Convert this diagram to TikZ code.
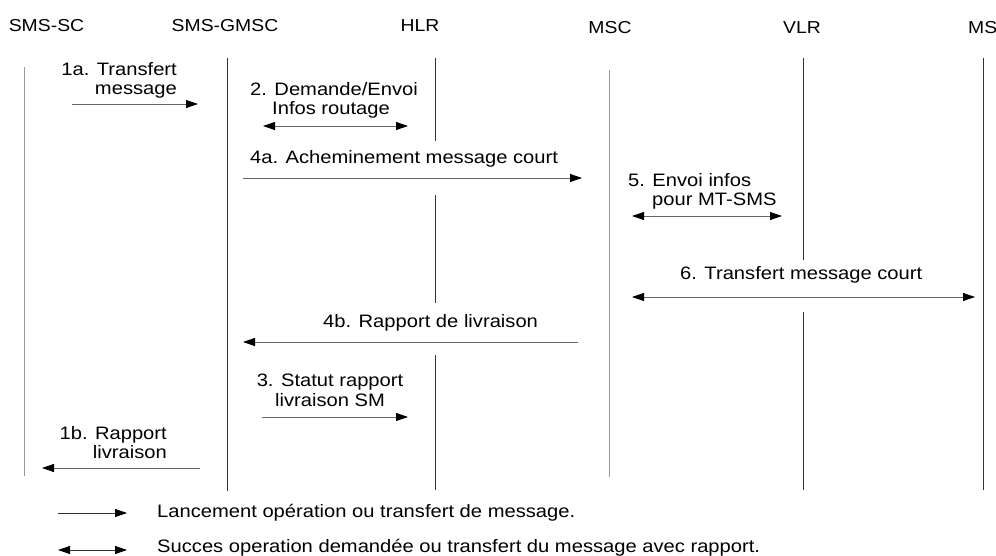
\documentclass[tikz,border=0pt]{standalone}
\usepackage{fontspec}
\setmainfont{Liberation Sans}[FakeStretch=1.12]
\usetikzlibrary{arrows.meta}

\begin{document}
\begin{tikzpicture}[x=1pt,y=-1pt,
  hdr/.style={font=\fontsize{17.3}{19}\selectfont, inner sep=0pt, anchor=base},
  lbl/.style={font=\fontsize{18}{19.5}\selectfont, inner sep=0pt},
  keytext/.style={font=\fontsize{18}{19.5}\selectfont, inner sep=0pt, anchor=base west},
  life/.style={line width=0.9pt, draw=black!80},
  faint/.style={line width=0.7pt, draw=black!40},
  tip/.tip={Triangle[length=12pt,width=8pt,color=black]},
  msg/.style={line width=0.8pt, draw=black!60, -tip},
  msgboth/.style={line width=0.8pt, draw=black!60, tip-tip},
  keyline/.style={line width=0.8pt, draw=black!80, -tip},
  keyboth/.style={line width=0.8pt, draw=black!80, tip-tip}
]
\useasboundingbox (0,0) rectangle (996,556);

% entity names
\node[hdr] (smssc) at (46.5,32) {SMS-SC};
\node[hdr] (gmsc)  at (225,32)  {SMS-GMSC};
\node[hdr] (hlr)   at (420,32)  {HLR};
\node[hdr] (msc)   at (610,34)  {MSC};
\node[hdr] (vlr)   at (802,34)  {VLR};
\node[hdr, anchor=base west] (ms) at (968,34) {MS};

% lifelines (broken where a label crosses them)
\coordinate (sc-t) at (24,67);   \coordinate (sc-b) at (24,476);
\coordinate (gm-t) at (227,58);  \coordinate (gm-b) at (227,491);
\coordinate (hl-t) at (435,58);  \coordinate (hl-1) at (435,141);
\coordinate (hl-2) at (435,195); \coordinate (hl-3) at (435,303);
\coordinate (hl-4) at (435,355); \coordinate (hl-b) at (435,490);
\coordinate (mc-t) at (609,70);  \coordinate (mc-b) at (609,477);
\coordinate (vl-t) at (803,58);  \coordinate (vl-1) at (803,260);
\coordinate (vl-2) at (803,312); \coordinate (vl-b) at (803,490);
\coordinate (ms-t) at (983,58);  \coordinate (ms-b) at (983,490);

\draw[faint] (sc-t) -- (sc-b);
\draw[life]  (gm-t) -- (gm-b);
\draw[life]  (hl-t) -- (hl-1);
\draw[life]  (hl-2) -- (hl-3);
\draw[life]  (hl-4) -- (hl-b);
\draw[faint] (mc-t) -- (mc-b);
\draw[life]  (vl-t) -- (vl-1);
\draw[life]  (vl-2) -- (vl-b);
\draw[life]  (ms-t) -- (ms-b);

% message labels
\node[lbl, align=right, anchor=north east] (t1a) at (177,62) {1a. Transfert\\message};
\node[lbl, align=left, anchor=north west] (t2) at (250,82) {2. Demande/Envoi\\\hspace*{22pt}Infos routage};
\node[lbl, anchor=north west] (t4a) at (250,150) {4a. Acheminement message court};
\node[lbl, align=left, anchor=north west] (t5) at (628,173) {5. Envoi infos\\\hspace*{24pt}pour MT-SMS};
\node[lbl, anchor=north west] (t6) at (680,266) {6. Transfert message court};
\node[lbl, anchor=north west] (t4b) at (323,314) {4b. Rapport de livraison};
\node[lbl, align=center, anchor=north] (t3) at (330,374) {3. Statut rapport\\livraison SM};
\node[lbl, align=right, anchor=north east] (t1b) at (167,426) {1b. Rapport\\livraison};

% message arrows
\coordinate (a1a-s) at (72,104);  \coordinate (a1a-e) at (198,104);
\coordinate (a2-s)  at (263,126); \coordinate (a2-e)  at (408,126);
\coordinate (a4a-s) at (243,178); \coordinate (a4a-e) at (582,178);
\coordinate (a5-s)  at (632,216); \coordinate (a5-e)  at (782,216);
\coordinate (a6-s)  at (632,297); \coordinate (a6-e)  at (975,297);
\coordinate (a4b-s) at (578,342); \coordinate (a4b-e) at (243,342);
\coordinate (a3-s)  at (262,417); \coordinate (a3-e)  at (408,417);
\coordinate (a1b-s) at (200,468); \coordinate (a1b-e) at (42,468);

\draw[msg]     (a1a-s) -- (a1a-e);
\draw[msgboth] (a2-s)  -- (a2-e);
\draw[msg]     (a4a-s) -- (a4a-e);
\draw[msgboth] (a5-s)  -- (a5-e);
\draw[msgboth] (a6-s)  -- (a6-e);
\draw[msg]     (a4b-s) -- (a4b-e);
\draw[msg]     (a3-s)  -- (a3-e);
\draw[msg]     (a1b-s) -- (a1b-e);

% key
\coordinate (k1-s) at (58,513); \coordinate (k1-e) at (127,513);
\coordinate (k2-s) at (58,550); \coordinate (k2-e) at (127,550);
\draw[keyline] (k1-s) -- (k1-e);
\draw[keyboth] (k2-s) -- (k2-e);
\node[keytext] (k1) at (157,517) {Lancement opération ou transfert de message.};
\node[keytext] (k2) at (157,552) {Succes operation demandée ou transfert du message avec rapport.};
\end{tikzpicture}
\end{document}
